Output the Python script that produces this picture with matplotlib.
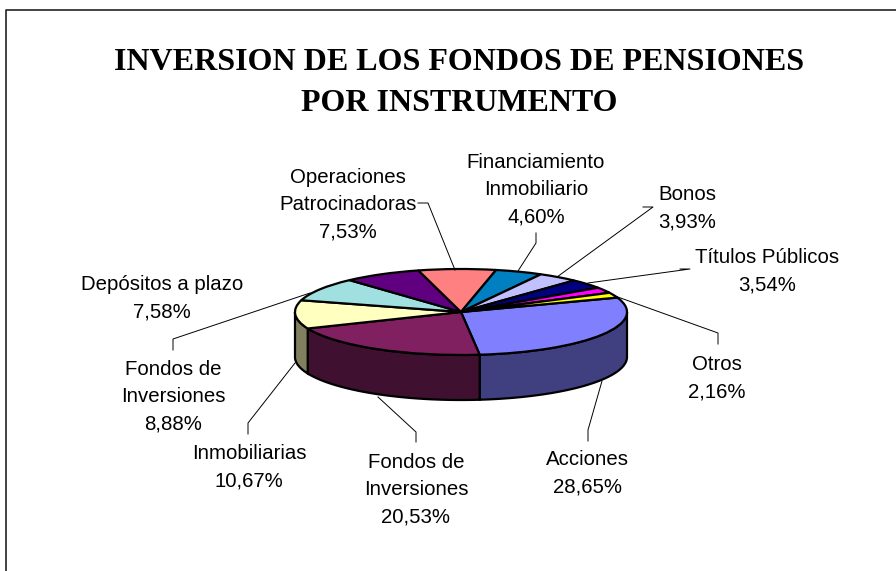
import numpy as np
import matplotlib
matplotlib.use("Agg")
import matplotlib.pyplot as plt

title = "INVERSION DE LOS FONDOS DE PENSIONES\nPOR INSTRUMENTO"

# clockwise from the 28,65 slice, last slice has no label in the original
values = [28.65, 20.53, 10.67, 8.88, 7.58, 7.53, 4.60, 3.93, 3.54, 2.16, 1.93]
labels = [
    "Acciones\n28,65%",
    "Fondos de\nInversiones\n20,53%",
    "Inmobiliarias\n10,67%",
    "Fondos de\nInversiones\n8,88%",
    "Depósitos a plazo\n7,58%",
    "Operaciones\nPatrocinadoras\n7,53%",
    "Financiamiento\nInmobiliario\n4,60%",
    "Bonos\n3,93%",
    "Títulos Públicos\n3,54%",
    "Otros\n2,16%",
]
top_colors = ["#8080FF", "#802060", "#FFFFC0", "#A0E0E0", "#600080", "#FF8080",
              "#0080C0", "#C0C0FF", "#000080", "#FF00FF", "#FFFF00"]
side_colors = ["#404080", "#401030", "#808060", "#507070", "#300040", "#804040",
               "#004060", "#606080", "#000040", "#800080", "#808000"]

# layout, pixels
W, H = 896, 571
cx, cy, rx, ry = 461, 312, 166, 43
depth = 45
start_angle = 19.6

label_pos = [(587, 473.5), (416, 489.5), (249, 467.5), (173, 396.5), (162, 298),
             (348, 205), (536, 189.5), (687, 208), (767, 271), (717, 378)]
leaders = [
    [(588, 441), (588, 430), (602, 381)],
    [(416, 442), (416, 432), (378, 397)],
    [(248, 434), (248, 423), (295, 363)],
    [(173, 350), (173, 339), (310, 293)],
    None,
    [(418, 203), (428, 203), (455, 270)],
    [(536, 233), (536, 243), (518, 271)],
    [(643, 207), (653, 207), (557, 277)],
    [(680, 269), (690, 269), (588, 283)],
    [(718, 344), (718, 333), (615, 296)],
]

fig = plt.figure(figsize=(W / 100, H / 100), dpi=100)

# pie lives in its own squashed axes so 1 unit is rx across and ry down
ax = fig.add_axes([0, 0, 1, 1])
ax.pie(
    values,
    colors=top_colors,
    startangle=start_angle,
    counterclock=False,
    radius=1,
    wedgeprops={"edgecolor": "black", "linewidth": 1.6, "zorder": 3},
)
ax.set_aspect("auto")
ax.set_xlim(-cx / rx, (W - cx) / rx)
ax.set_ylim((cy - H) / ry, cy / ry)
ax.axis("off")

# side wall, only the part of each slice facing front
d = depth / ry
edges = start_angle - np.cumsum([0] + values) * 3.6
for i in range(len(values)):
    a1, a0 = edges[i], edges[i + 1]
    # front half is -180..0 (or 180..360 wrapped)
    lo = max(a0, -180)
    hi = min(a1, 0)
    if lo >= hi:
        continue
    t = np.radians(np.linspace(lo, hi, 80))
    x = np.cos(t)
    y = np.sin(t)
    ax.fill(
        np.r_[x, x[::-1]],
        np.r_[y, y[::-1] - d],
        facecolor=side_colors[i],
        edgecolor="black",
        linewidth=1.6,
        zorder=1,
    )

# overlay in pixel coords for text and leader lines
ov = fig.add_axes([0, 0, 1, 1])
ov.set_xlim(0, W)
ov.set_ylim(H, 0)
ov.axis("off")
ov.patch.set_alpha(0)

ov.plot([5.5, 5.5, W], [H, 10, 10], color="#222222", linewidth=1.2, clip_on=False)

ov.text(
    459.5, 83, title,
    ha="center", va="center",
    family="Liberation Serif", fontweight="bold", fontsize=23,
    linespacing=1.56,
)

for text, pos, line in zip(labels, label_pos, leaders):
    ov.text(
        pos[0], pos[1], text,
        ha="center", va="center",
        family="Liberation Sans", fontsize=14.7,
        linespacing=1.55,
    )
    if line is not None:
        ov.plot([p[0] for p in line], [p[1] for p in line], color="black", linewidth=0.7)

fig.savefig("out.png", dpi=100)
